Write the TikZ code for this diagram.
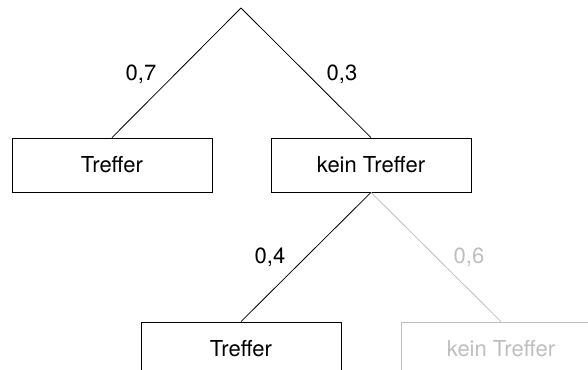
\documentclass[tikz,border=0pt]{standalone}
\usepackage{fontspec}
\setmainfont{TeX Gyre Heros}
\usepackage{tikz}
\usepackage{xcolor}
\usetikzlibrary{calc}

\definecolor{grau}{RGB}{190,190,190}

\begin{document}
\begin{tikzpicture}[x=0.75pt,y=-0.75pt]

\tikzset{
    box/.style = {
    minimum height=40.5pt,
    minimum width = 150pt,
    inner sep=0pt,
    font=\fontsize{16.5}{19}\selectfont
    }
}

\tikzstyle{ast}=[draw, line width=0.6pt, box]
\tikzstyle{astgrau}=[draw=grau, text=grau, line width=0.6pt, box]
\tikzstyle{zahl}=[inner sep=0pt, anchor=base, font=\fontsize{16.5}{19}\selectfont]

\useasboundingbox (0,0) rectangle (588,370);

\coordinate (w-0) at (241,8);

\node (w-1) [ast] at (112,165) {Treffer};
\node (w-2) [ast] at (371,165) {kein Treffer};
\node (w-21) [ast] at (241,349) {Treffer};
\node (w-22) [astgrau] at (501,349) {kein Treffer};

\draw [line width=0.6pt] (w-0) -- (w-1.north);
\draw [line width=0.6pt] (w-0) -- (w-2.north);
\draw [line width=0.6pt] (w-2.south) -- (w-21.north);
\draw [line width=0.6pt, grau] (w-2.south) -- (w-22.north);

\node (p-1) [zahl] at (141,80.5) {0,7};
\node (p-2) [zahl] at (342,80.5) {0,3};
\node (p-21) [zahl] at (270,263) {0,4};
\node (p-22) [zahl, text=grau] at (469,263) {0,6};

\end{tikzpicture}
\end{document}
